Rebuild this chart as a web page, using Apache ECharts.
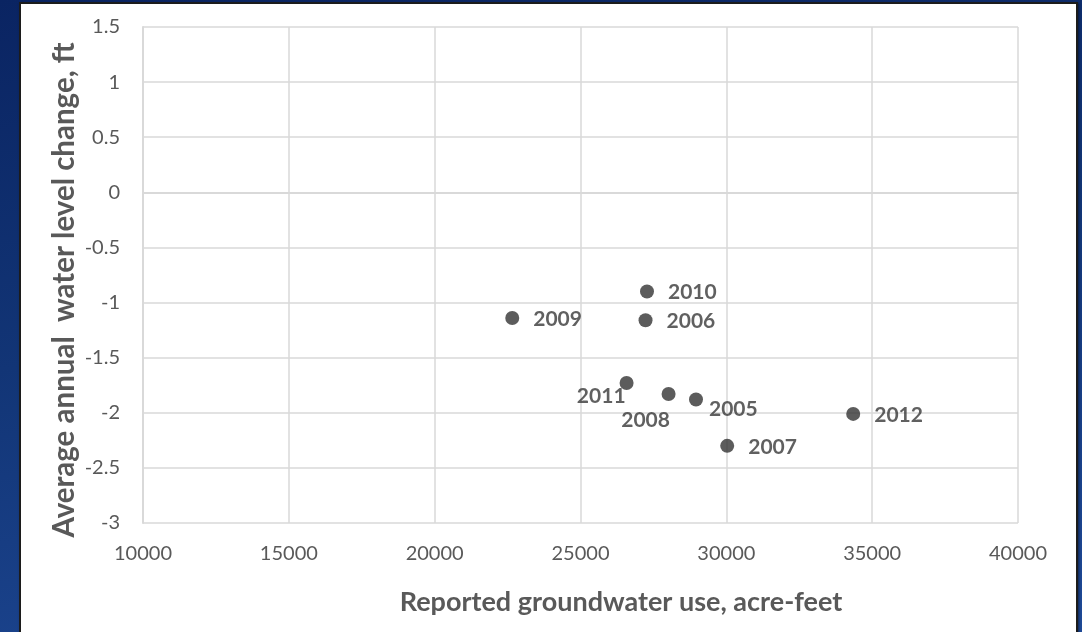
<!DOCTYPE html>
<html>
<head>
<meta charset="utf-8">
<script src="https://cdn.jsdelivr.net/npm/echarts@6/dist/echarts.min.js"></script>
<style>
  html, body { margin: 0; padding: 0; width: 1082px; height: 632px; overflow: hidden; }
  body { background: linear-gradient(170deg, #0a2462 0%, #123576 45%, #1f4a98 100%); position: relative; }
  #panel { position: absolute; left: 19px; top: 2px; width: 1055px; height: 640px; background: #fff; border: 2px solid #1c1c1c; box-shadow: 1px 1px 2px rgba(0,0,0,0.5); }
  #chart { position: absolute; left: 0; top: 0; width: 1082px; height: 632px; }
</style>
</head>
<body>
<div id="panel"></div>
<div id="chart"></div>
<script>
// Yearly groundwater use vs. average water level change
const years = ['2005', '2006', '2007', '2008', '2009', '2010', '2011', '2012'];
const groundwaterUse = [28960, 27230, 30030, 28020, 22660, 27280, 26580, 34350];
const levelChange = [-1.88, -1.16, -2.30, -1.83, -1.14, -0.90, -1.73, -2.01];

const xTitle = 'Reported groundwater use, acre-feet';
const yTitle = 'Average annual  water level change, ft';

// Where each year's label sits relative to its marker
const labelPlacement = {
  '2005': { position: 'right', distance: 6, offset: [0, 10] },
  '2008': { position: 'bottom', distance: 0, offset: [-23, 9] },
  '2011': { position: 'left', distance: 0, offset: [6, 13] }
};

const points = years.map((y, i) => {
  const lp = labelPlacement[y] || { position: 'right', distance: 14, offset: [0, 1] };
  return {
    name: y,
    value: [groundwaterUse[i], levelChange[i]],
    label: { position: lp.position, distance: lp.distance, offset: lp.offset }
  };
});

const chart = echarts.init(document.getElementById('chart'));
const fontFamily = 'Lato, "Open Sans", sans-serif';
const titleStyle = { fontFamily, fontWeight: 'bold', fill: '#595959' };

chart.setOption({
  animation: false,
  backgroundColor: 'transparent',
  grid: { left: 143, right: 64, top: 27, bottom: 109 },
  xAxis: {
    type: 'value', min: 10000, max: 40000, interval: 5000,
    axisLine: { show: true, lineStyle: { color: '#d9d9d9', width: 2 } },
    axisTick: { show: false },
    splitLine: { show: true, lineStyle: { color: '#d9d9d9', width: 1.5 } },
    axisLabel: { fontFamily, fontSize: 20, color: '#595959', margin: 21, formatter: v => String(v) }
  },
  yAxis: {
    type: 'value', min: -3, max: 1.5, interval: 0.5,
    axisLine: { show: true, lineStyle: { color: '#d9d9d9', width: 2 } },
    axisTick: { show: false },
    splitLine: { show: true, lineStyle: { color: '#d9d9d9', width: 1.5 } },
    axisLabel: { fontFamily, fontSize: 20, color: '#595959', margin: 23, formatter: v => String(v) }
  },
  graphic: [
    {
      type: 'text', x: 621, y: 602,
      style: Object.assign({ text: xTitle, fontSize: 27, textAlign: 'center', textVerticalAlign: 'middle' }, titleStyle)
    },
    {
      type: 'text', x: 64, y: 290, rotation: Math.PI / 2,
      style: Object.assign({ text: yTitle, fontSize: 29.5, textAlign: 'center', textVerticalAlign: 'middle' }, titleStyle)
    }
  ],
  series: [{
    type: 'scatter',
    symbol: 'circle',
    symbolSize: 14,
    itemStyle: { color: '#333333' },
    label: {
      show: true,
      formatter: p => p.name,
      fontFamily, fontSize: 21, fontWeight: 'bold', color: '#383838'
    },
    data: points
  }]
});
</script>
</body>
</html>
